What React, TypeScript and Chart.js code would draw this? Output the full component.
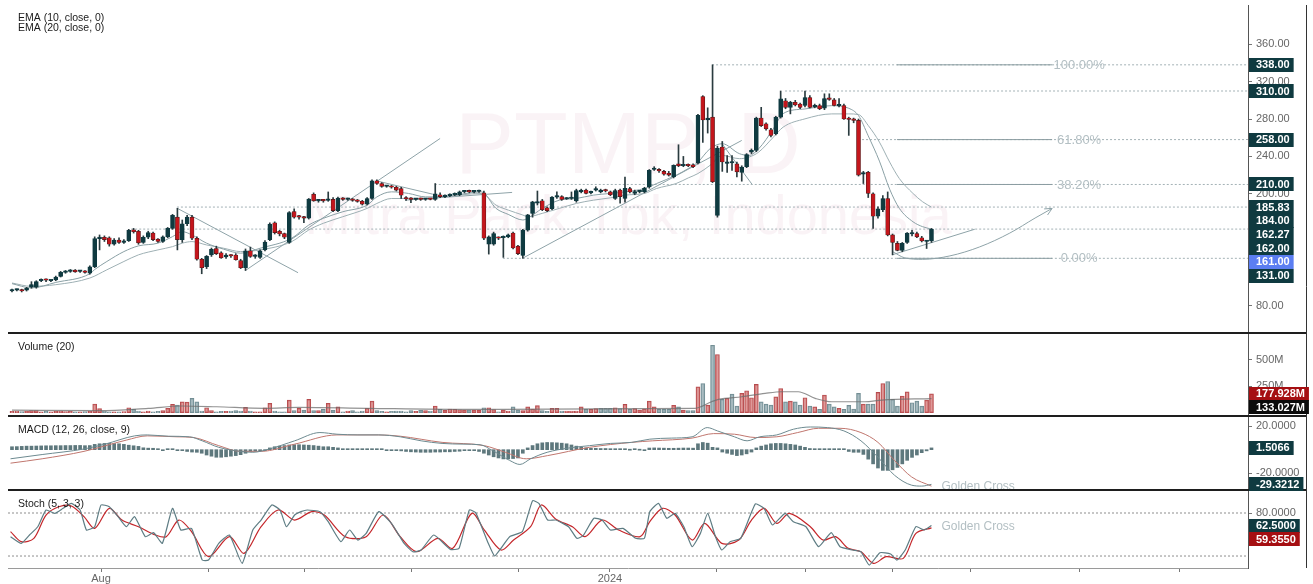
import React, { useEffect, useRef } from "react";
import { Chart, registerables } from "chart.js";
Chart.register(...registerables);

// ---------- DATA ----------
const open = [96,97,97.5,97,100,100,107,108,107,108,111.5,116,117,118.5,117,117,115,122,152,153.5,153,146,150.5,148,150,161.5,160,148,153.5,158,151.5,149,154,163,175,151,168,175,152.5,130,122,134.5,141.5,137,132.5,134,134.5,128.5,121,139,133,132,140,151,169,160,157.5,148,181,175.5,175,174,199.5,192.5,193,193,194,182,195,194,194,193,192,189,195,214,211,208,208,207,205.5,196,194.5,194,194.5,194,194.5,194,199,197,198,199,199,202,202.5,202,202.5,201,146,146,153,153,154,158,144,134,161,179,190,192.5,185,184,196.5,197,194.5,195,192.5,202,204,201,204,202,204,202,195,204,195,205.5,200.5,202,202,207.5,226,226,224,222,218,232,230,230.5,231,233,304,279,282,177,250,232.5,233,232,223,229,244.5,246.5,281,275,268.5,264,282,299.5,292.5,298,296,294.5,303,293,294.5,291.5,302,300.5,294,294.5,280.5,279,278.5,221,223,200,176,183,195,156,147,139.5,148,157,157.5,153,149,149.5];
const high = [98,98,98,100,106,107,109,109,108,112,117,118,119,119,118,118,123,154,156,155,154,152,153,151,162,163,161,155,160,159,152,155,164,178,184.5,172,177,177,154,131,134,142,144,138,136,135,136,130,141,143,135,140,150,169,170,161,158,181,184,177,176,195,201,194,194,202,196,196.5,196,195.5,195,194,193,196,215,215,212,209,209,208,207,197,196,195,195.5,195,195,211,201,199,200,201,203,203,204,203.5,204,203,155,159,154,155,157,159,145,162,178,192,203,194,186,197,202,198,196,202,205,205,205,203,207.5,205,205,203,205,205,218,207,204,203.5,207,226,229,227,225,224,231,252.5,240,232,232,285,305,292,338,251,256,241,241,234,230,243,248,282,292.5,276,270,283,310,302,299,300,297,310,305,296,296,307,307,302,302,296,282,281,280,224,224,201,186,198,202,157,149,148,158.5,161,159,154.5,150,163];
const low = [95,96,95,96,99,99,106,106,106,107,111,115,116,116,116,115,114,121,140,149,144,145,147,147,149,158,146,147,152,150,148,148,153,162,140,148,166,151,129,114.5,120,133,135,131,131,132,129,120,118,132,131,131,139,150,157,155,152,147,174,173,169,173,192,191,191,192,181,181,193,193,192,191,188,188,194,210,207,207,206,203,195,193,190.5,193,193,193,193.5,193,196,196,197,198,198,201,201,201,201.5,151,135.5,145,151,132,153,141,135,131,160,175,188,182,181,183,195,193,194,194,191,201,200,200,203,201,202,198,194,190,191,201,199,201,201,206,225,223,220,219,217,229,229,229,228,232,255,265,212,175,224,223,225,218,213.5,228,243,245,272,268,261,263,281,291,285.5,294,291,293,292,292,290,290,300,294,293,279.5,262.5,276,219,211,196,163,174,181,155,134.7,139,138,147,155,153,148.5,141.5,148];
const close = [97,97.5,96,99,103,106,108,107.5,107.5,111,116,117,118,116.5,117.5,116,122,152,153.5,151,146,150.5,148,149.5,161,159.5,147.5,153.5,158.5,151,149,154,163,177,151,168,175,152.5,130,121,133,140.5,136,131.5,134.5,133.5,129.5,121,139,133,134,139,148.5,167.5,158.5,157,153.5,180,175,175,174,194.5,192.5,193,192.5,194,182,195.5,194,194.5,193,192,189,195,214,211,208,208.5,207,204,198.5,194.5,194,194.5,194,194.5,194,200,197,197.5,199,200,202,202.5,202,202.5,203,152.5,154,157.5,152.5,153.5,156,142,136,161,177.5,191.5,191.5,183,182,196.5,197,194,195,195.5,203.5,204,200.5,202,205,204,203,199,203.5,197,206,202,202.5,202.5,206,225,227,224.5,221,220,230.5,230,231,230,229,284,279,281,213,249,234,234,233.5,223.5,228.5,242,246.5,281,273,269.5,262.5,282,301.5,292.5,298,295,292.5,303,292.5,294.5,291,302,301,294.5,295,280,279.5,278.5,220,222,200.5,176,184,195,156,148,139.5,147,158,157.5,154,149.5,149.5,162];

// volume in millions
const volume = [12,15,10,14,19,19,9,12,8,14,16,10,12,9,8,10,14,81,38,16,9,9,6,10,47,31,16,9,16,9,12,19,41,78,72,103,100,135,103,16,47,19,9,13,13,16,19,16,50,16,9,9,47,88,16,9,9,119,19,41,25,125,19,19,31,88,25,56,9,16,19,9,16,41,110,19,12,9,12,16,16,9,19,13,22,19,16,63,31,22,34,31,28,25,25,25,22,47,47,30,9,25,16,56,25,19,56,34,66,19,13,41,41,16,16,16,16,56,31,31,38,41,41,41,47,38,78,31,38,25,34,110,56,31,31,31,69,56,25,19,19,244,275,72,635,548,125,135,175,63,182,207,141,266,103,81,72,150,228,103,110,103,72,141,63,56,31,166,81,56,41,31,69,34,182,81,81,81,191,275,294,125,63,156,197,94,110,63,119,178];
const volMA20 = [[0,25],[18,19],[28,41],[35,63],[42,56],[52,41],[59,50],[73,41],[93,31],[140.4,41],[143.8,103],[145.2,125],[150,150],[154.8,182],[158.2,197],[161.6,197],[165.1,135],[168.5,103],[171.9,103],[175.3,103],[178.8,119],[189,133.027]];

const ema10 = [[0,103.9],[4,99.3],[9,105.2],[16,114.5],[17,119],[19.5,127.6],[23,138.2],[26,144.3],[30,147.2],[33,154.2],[35,159.5],[37,156],[40,147.2],[43.5,140.8],[47,136.5],[51,141.8],[57.5,152.5],[61,166.6],[64,173.8],[68,180.8],[73,187.9],[75,196.7],[78,202.1],[81.5,200.4],[85,196.7],[88,196.7],[96.5,202.1],[99.5,184.4],[102,178],[105,172],[106,173.8],[109,184.4],[112.5,193.2],[116,195],[119.5,198.6],[123,200.4],[126,202.1],[130,205.7],[132.5,211],[136.5,219.9],[139,227],[141,234],[143.5,248.3],[146,253.6],[149.5,243],[151.5,241.1],[153.5,248.3],[156.5,269.6],[158.5,285.8],[163,290.8],[168.5,294.3],[172,291.5],[174,283.7],[176,262],[178.3,235],[180.4,205],[182.4,184.4],[185.2,170.1],[187.2,164.8],[189,162.27]];
const ema20 = [[0,104.6],[4,101],[9,102.8],[16,109.9],[19.5,118.7],[23,127.6],[26,134.7],[30,140],[33,143.5],[35,147.2],[37,148.9],[40,145.3],[43.5,141.8],[47,138.2],[51,140],[57.5,148.9],[61,161.3],[64,168.5],[68,175.5],[73,184.4],[75,189.7],[78,195],[81.5,195],[85,195],[88,196.1],[96.5,200.4],[99.5,187.9],[102,182.6],[105,177.3],[106,175.5],[109,179.1],[112.5,184.4],[116,189.7],[119.5,193.2],[123,195.7],[126,198.6],[130,200.4],[132.5,205.7],[136.5,211],[139,217],[141,221.7],[143.5,230.5],[146,241.1],[149.5,237.6],[151.5,239.3],[153.5,244.7],[156.5,260.6],[158.5,271.3],[163,280.2],[168.5,285.5],[172,285.5],[174,284.8],[176,273.1],[178.3,255.3],[180.4,234],[182.4,216.3],[185.2,200.4],[187.2,191.4],[189,185.83]];

const macdLine = [[-0.3,-7.7],[6.2,-4.1],[14.8,0.6],[19.2,4.8],[25.2,11.7],[27.8,12.5],[32.2,11.4],[36.5,10.9],[39.1,7.5],[42.5,2],[46.9,-1.4],[49.5,-2.2],[52.9,0.6],[58.1,7.5],[63.3,14.5],[66.8,13.1],[71.1,12.5],[75.4,12.5],[79.8,10.9],[84.1,7.5],[88.4,5.3],[92.7,4.7],[96.2,4.2],[98.8,-0.8],[102.3,-9.1],[104.4,-12.5],[106.6,-7.7],[110,-2.2],[114.4,1.4],[118.7,3.4],[123,5.3],[127.4,6.2],[131.1,8.9],[135.5,9.8],[139.8,10.9],[142.9,18.7],[145,15.9],[148.5,10.9],[151.1,7.5],[153.7,10.9],[157.2,12.5],[160.6,17.3],[164.1,19.2],[167.6,18.7],[171,15.9],[174.5,7.5],[178,-6.4],[181.4,-21.6],[184.9,-30],[187,-30.8],[189,-29.3212]];
const signalLine = [[-0.3,-11.4],[6.2,-7.7],[14.8,-1.4],[23.5,8.1],[27.8,11.7],[33.9,10.9],[37.3,10.3],[42.5,3.4],[46.9,-1.4],[51.2,-1.4],[58.1,4.7],[66.8,12.5],[75.4,12.5],[79.8,11.4],[88.4,6.2],[97.1,3.4],[101.4,-2.2],[105.7,-7.7],[110.1,-5],[118.7,2],[127.4,6.2],[131.7,7.5],[139.8,9.8],[144.2,13.6],[148.5,13.1],[152.8,10.3],[157.2,10.9],[161.5,14.5],[165.8,18.1],[170.2,18.1],[174.5,14.5],[178,6.2],[181.4,-9.1],[184.9,-23],[189,-30.83]];
const macdHist = [2.5,2.6,2.8,3,3,3.1,3.2,3.3,3.3,3.4,3.4,3.5,3.5,3.6,3.6,3.4,3.5,4.5,5,5.3,5.3,5.2,5,4.5,3.8,3.3,2.8,1.6,1.3,1.2,0.3,-0.3,0.3,0.2,-0.3,-0.4,-1.5,-2,-2.2,-3,-4.5,-5.5,-6.4,-6.4,-6,-5.5,-5,-4.2,-3,-1.5,-1,-0.8,-0.5,1.5,2.5,3,3.5,4,4.2,4.2,4,3.8,3.5,3,2.5,2.5,2,1.5,0.8,0.6,0.5,0.3,0.3,0.4,0.5,0.4,0.2,-0.3,-0.4,-0.5,-1,-1.5,-1.8,-2,-2.2,-2.2,-2.2,-2,-2,-1.8,-1.8,-1.5,-1.3,-0.5,-0.4,-0.5,-1.5,-3,-4.5,-6,-7,-7.8,-7.8,-7.5,-7,-3,1.5,3.5,5,5.8,6.1,6,5.8,5.5,5,4,3,2,1.5,1.2,1.2,1,1,0.8,0.8,0.5,0.5,0,0.2,0,-0.2,1.4,1.5,1.4,1.3,1.2,1.2,1.3,1.4,1.4,1.3,5,6.1,5.5,2,1.5,-2,-3,-4,-5,-4.5,-3.5,-2,1.5,3,4,5,5.3,5.3,5,4.5,4,3,2,1,0.8,0.6,0.5,0.5,0.4,0.3,0.2,-1.5,-2.2,-2.2,-4,-8,-12,-15.5,-17.5,-17.5,-17,-15,-12,-9,-6.5,-4.5,-2.5,-1,1.5066];

const stochK = [[-0.3,47],[1.9,37.7],[3.6,49.3],[5.3,60.9],[7,84.2],[8.8,79.5],[10.5,86.5],[12.2,93.5],[14,84.2],[15.3,56.3],[17,60.9],[18.3,91.2],[20,88.8],[21.8,74.9],[23.5,60.9],[25.2,74.9],[27.4,47],[29.1,52.6],[30.9,37.7],[33,86.5],[34.7,56.3],[36.9,58.6],[39.1,14.4],[40.4,14.4],[42.5,37.7],[44.7,49.3],[47.3,9.8],[49.5,56.3],[51.2,70.2],[53.4,91.2],[55.1,84.2],[56.4,60.9],[58.1,77.2],[59.4,81.9],[60.7,84.2],[63.3,81.9],[65,67.9],[67.6,40],[69.4,56.3],[71.1,42.3],[72.8,51.6],[75.4,81.9],[78,65.6],[80.6,37.7],[82.4,26],[84.1,28.4],[86.7,49.3],[90.1,29.3],[91.9,30.7],[94,84.2],[95.3,80.5],[97.9,37.7],[99.2,20],[100.5,30.7],[102.3,47],[104.9,54],[107,97.2],[108.3,93.5],[110.1,70.2],[111.8,70.2],[114.4,60.9],[116.1,44.7],[117.4,48.4],[119.6,72.6],[121.3,70.2],[123,56.3],[125.6,58.6],[128.2,44.7],[130,44.7],[131.1,81.9],[132.9,93.5],[134.6,72.6],[136.3,79.5],[138.1,60.9],[139.8,33],[141.5,51.6],[143,79.5],[144.6,47],[145.9,28.4],[147.6,40],[149.8,44.7],[152.8,92.6],[154.6,86.5],[156.3,63.3],[158.9,79.5],[160.6,67.9],[163.2,60.9],[165.8,33],[168.4,52.6],[170.2,33],[172.8,28.4],[174.5,26],[176.2,7.4],[178.4,24.6],[180.6,22.8],[181.9,14.4],[183.6,28.4],[185.8,60.9],[187.5,56.3],[189,62.5]];
const stochD = [[-0.3,54],[1.9,40],[4.5,44.7],[7,77.2],[9.6,88.8],[12.2,89.8],[14.8,74.9],[17,58.6],[20,86.5],[22.6,70.2],[26,60.9],[29.5,49.3],[31.7,47],[34.3,70.2],[36.9,54],[40.4,19.1],[44.7,47],[47.7,23.7],[51.2,60.9],[54.7,84.2],[58.1,70.2],[61.6,81.9],[64.2,77.2],[68.5,47],[72.8,47],[76.3,77.2],[79.8,47],[83.2,26],[87.5,44.7],[90.6,30.7],[94.5,79.5],[97.1,56.3],[100.5,28.4],[103.1,42.3],[106.6,60.9],[108.8,91.2],[111.8,71.4],[115.2,60.9],[117.8,47],[121.3,70.2],[124.7,56.3],[129.1,47],[131.1,67.9],[133.7,86.5],[136.3,77.2],[139.8,42.3],[142.4,65.6],[145.9,37.7],[149.4,42.3],[152,70.2],[154.6,86.5],[157.2,65.6],[159.8,79.5],[164.1,60.9],[166.7,42.3],[169.3,47],[171.9,30.7],[174.5,26],[177.1,9.8],[179.7,19.1],[183.2,16.7],[185.8,51.6],[189,59.355]];

// x axis (bar index) month ticks
const monthTicks = [18.3, 40.3, 60.2, 82.2, 104.2, 122.9, 144.9, 163.2, 180.9, 197.1, 219.5, 239.9];
const monthLabels = ["Aug", "", "", "", "", "2024", "", "", "", "", "", ""];
const priceTicks = [80, 120, 160, 200, 240, 280, 320, 360];
const volumeTicks = [250, 500];
const macdTicks = [-20, 20];
const stochTicks = [80];
const stochBands = [80, 20];

// drawings
const levelPrices = [338, 310, 258, 210, 185.83, 162.27, 131];
const levelStarts = [143.9, 158.9, 173.9, 86.9, 33.9, 24.5, 100.9];
const trendLines = [
  [[33.9, 184.7], [58.8, 115.6]],
  [[47.9, 117.7], [88, 259.2]],
  [[75.2, 213.5], [86.5, 199.6]],
  [[80.8, 193.2], [102.8, 201.5]],
  [[105, 131.2], [150, 257.1]],
  [[145.9, 253.9], [152.1, 210.3]],
  [[180.9, 134.7], [197.9, 162.1]],
];
const curveArrow = [[181.1, 137.9], [183.5, 131.5], [187.2, 129.9], [192.8, 133.6], [198.9, 143.2], [205.1, 158], [210.3, 174.1], [213.8, 184.4]];
const fibPrices = [338, 258, 210, 131];
const fibNames = ["100.00%", "61.80%", "38.20%", "0.00%"];
const fibRange = [181.9, 213.8];

const priceLabels = [338, 310, 258, 210, 185.83, 184, 162.27, 162, 161, 131];
const priceLabelHighlight = 161;
const volumeLabels = [177.928, 133.027];
const macdLabels = [1.5066, -29.3212];
const stochLabels = [62.5, 59.355];

// ---------- STYLE ----------
const FONT = '"Liberation Sans", Arial, Helvetica, sans-serif';
const DARK = "#0f3a40";
const RED = "#c4161c";
const LINE = "#8ea3a8";

const N = close.length;
const idx = Array.from({ length: N }, (_, i) => i);
const pts = (a: number[][]) => a.map(([x, y]) => ({ x, y }));
const XMIN = -0.82;
const XMAX = 254.06;

function fixedTicks(values: number[]) {
  return (scale: any) => {
    scale.ticks = values.map((v) => ({ value: v }));
  };
}
function fitY(scale: any) {
  scale.width = 58;
  scale.paddingTop = 0;
  scale.paddingBottom = 0;
}

function drawBoxes(ctx: any, scale: any, items: { v: number; t: string; bg: string }[]) {
  let prev = -Infinity;
  ctx.font = "bold 11px " + FONT;
  ctx.textBaseline = "middle";
  ctx.textAlign = "left";
  const left = scale.left;
  for (const it of items) {
    let y = scale.getPixelForValue(it.v);
    if (y < prev + 13.7) y = prev + 13.7;
    prev = y;
    const w = ctx.measureText(it.t).width;
    ctx.fillStyle = it.bg;
    ctx.fillRect(left + 1, Math.round(y - 7), w + 11, 14);
    ctx.fillStyle = "#ffffff";
    ctx.fillText(it.t, left + 8, y + 0.5);
  }
}

const overlay = {
  id: "overlay",
  beforeDatasetsDraw(chart: any) {
    const { ctx, chartArea } = chart;
    const yP = chart.scales.yP;
    const cx = (chartArea.left + chartArea.right) / 2;
    ctx.save();
    ctx.beginPath();
    ctx.rect(chartArea.left, yP.top, chartArea.right - chartArea.left, yP.bottom - yP.top);
    ctx.clip();
    ctx.fillStyle = "rgba(232, 196, 208, 0.2)";
    ctx.textAlign = "center";
    ctx.textBaseline = "alphabetic";
    ctx.font = "88px " + FONT;
    ctx.fillText("PTMP, D", cx, yP.top + 168);
    ctx.font = "56px " + FONT;
    ctx.fillText("Mitra Pack Tbk, Indonesia", cx, yP.top + 229);
    ctx.restore();
  },
  afterDraw(chart: any) {
    const { ctx, chartArea, scales } = chart;
    const { x, yP, yV, yM, yS } = scales;
    const W = chart.width;
    ctx.save();
    // panel titles
    ctx.fillStyle = "#1a1a1a";
    ctx.font = "10.5px " + FONT;
    ctx.textAlign = "left";
    ctx.textBaseline = "middle";
    ctx.fillText("EMA (10, close, 0)", 18, yP.top + 13.5);
    ctx.fillText("EMA (20, close, 0)", 18, yP.top + 23.5);
    ctx.fillText("Volume (20)", 18, yV.top + 14);
    ctx.fillText("MACD (12, 26, close, 9)", 18, yM.top + 14);
    ctx.fillText("Stoch (5, 3, 3)", 18, yS.top + 14);

    // fib labels
    ctx.font = "13px " + FONT;
    ctx.fillStyle = "#b3bfc3";
    ctx.textAlign = "center";
    const fx = x.getPixelForValue(fibRange[1]) + 27;
    fibPrices.forEach((p, k) => ctx.fillText(fibNames[k], fx, yP.getPixelForValue(p) + 0.5));

    // golden cross labels
    ctx.font = "12px " + FONT;
    ctx.textAlign = "left";
    const gx = x.getPixelForValue(N - 1) + 10;
    ctx.fillText("Golden Cross", gx, yM.getPixelForValue(signalLine[signalLine.length - 1][1]) + 1);
    ctx.fillText("Golden Cross", gx, yS.getPixelForValue(stochK[stochK.length - 1][1]) + 1);

    // arrowhead on curve
    const a = curveArrow[curveArrow.length - 2];
    const b = curveArrow[curveArrow.length - 1];
    const x1 = x.getPixelForValue(a[0]), y1 = yP.getPixelForValue(a[1]);
    const x2 = x.getPixelForValue(b[0]), y2 = yP.getPixelForValue(b[1]);
    const ang = Math.atan2(y2 - y1, x2 - x1);
    ctx.strokeStyle = LINE;
    ctx.lineWidth = 1;
    ctx.beginPath();
    ctx.moveTo(x2 - 8 * Math.cos(ang - 0.45), y2 - 8 * Math.sin(ang - 0.45));
    ctx.lineTo(x2, y2);
    ctx.lineTo(x2 - 8 * Math.cos(ang + 0.45), y2 - 8 * Math.sin(ang + 0.45));
    ctx.stroke();

    // panel separators
    ctx.strokeStyle = "#1e1e1e";
    ctx.lineWidth = 2;
    [yP.bottom, yV.bottom, yM.bottom].forEach((yy: number) => {
      ctx.beginPath();
      ctx.moveTo(chartArea.left, yy);
      ctx.lineTo(W - 7, yy);
      ctx.stroke();
    });
    // right frame
    ctx.strokeStyle = "#333";
    ctx.lineWidth = 1;
    ctx.beginPath();
    ctx.moveTo(W - 6.5, chartArea.top);
    ctx.lineTo(W - 6.5, chartArea.bottom);
    ctx.stroke();

    // right-side value boxes
    drawBoxes(ctx, yP, priceLabels.map((v) => ({ v, t: v.toFixed(2), bg: v === priceLabelHighlight ? "#5b7ef2" : DARK })));
    drawBoxes(ctx, yV, volumeLabels.map((v, k) => ({ v, t: v.toFixed(3) + "M", bg: k === 0 ? "#a50f12" : "#0b0b0b" })));
    drawBoxes(ctx, yM, macdLabels.map((v) => ({ v, t: v.toFixed(4), bg: DARK })));
    drawBoxes(ctx, yS, stochLabels.map((v, k) => ({ v, t: v.toFixed(4), bg: k === 0 ? DARK : "#a50f12" })));
    ctx.restore();
  },
};

function buildConfig(): any {
  const datasets: any[] = [];
  // dotted price levels
  levelPrices.forEach((p, k) => {
    datasets.push({
      type: "line", yAxisID: "yP", data: [{ x: levelStarts[k], y: p }, { x: XMAX, y: p }],
      borderColor: "#a4b2b6", borderWidth: 1, borderDash: [2, 2], pointRadius: 0, order: 20,
    });
  });
  // fib solid segments
  fibPrices.forEach((p) => {
    datasets.push({
      type: "line", yAxisID: "yP", data: [{ x: fibRange[0], y: p }, { x: fibRange[1], y: p }],
      borderColor: "#8a9ca1", borderWidth: 1, pointRadius: 0, order: 19,
    });
  });
  // trend lines
  trendLines.forEach((seg) => {
    datasets.push({
      type: "line", yAxisID: "yP", data: pts(seg), borderColor: LINE, borderWidth: 1, pointRadius: 0, order: 18,
    });
  });
  datasets.push({
    type: "line", yAxisID: "yP", data: pts(curveArrow), borderColor: LINE, borderWidth: 1, pointRadius: 0,
    tension: 0.4, cubicInterpolationMode: "monotone", order: 18,
  });
  // EMAs
  datasets.push({
    type: "line", yAxisID: "yP", data: pts(ema10), borderColor: "#8aa0a5", borderWidth: 1, pointRadius: 0,
    cubicInterpolationMode: "monotone", order: 15,
  });
  datasets.push({
    type: "line", yAxisID: "yP", data: pts(ema20), borderColor: "#9eb0b4", borderWidth: 1, pointRadius: 0,
    cubicInterpolationMode: "monotone", order: 15,
  });
  // candles
  datasets.push({
    type: "bar", yAxisID: "yP", grouped: false, barThickness: 1, order: 3,
    data: idx.map((i) => ({ x: i, y: [low[i], high[i]] })),
    backgroundColor: "#2a3b3f", borderWidth: 0,
  });
  datasets.push({
    type: "bar", yAxisID: "yP", grouped: false, barThickness: 4, order: 2, minBarLength: 1.5,
    data: idx.map((i) => ({ x: i, y: [open[i], close[i]] })),
    backgroundColor: idx.map((i) => (close[i] >= open[i] ? DARK : RED)),
    borderColor: idx.map((i) => (close[i] >= open[i] ? DARK : "#4a1a1a")),
    borderWidth: 0.6, borderSkipped: false,
  });
  // volume
  const volUp = idx.map((i) => i === 0 || close[i] >= close[i - 1]);
  datasets.push({
    type: "bar", yAxisID: "yV", grouped: false, barThickness: 4, order: 5, minBarLength: 1,
    data: idx.map((i) => ({ x: i, y: volume[i] })),
    backgroundColor: volUp.map((u) => (u ? "rgba(208,110,110,0.7)" : "rgba(140,165,172,0.75)")),
    borderColor: volUp.map((u) => (u ? "#b54a4c" : "#6f8b91")),
    borderWidth: 0.8, borderSkipped: false,
  });
  datasets.push({
    type: "line", yAxisID: "yV", data: pts(volMA20), borderColor: "rgba(110,110,110,0.75)", borderWidth: 1.2,
    pointRadius: 0, cubicInterpolationMode: "monotone", order: 4,
  });
  // MACD
  datasets.push({
    type: "bar", yAxisID: "yM", grouped: false, barThickness: 3, order: 6, minBarLength: 1,
    data: idx.map((i) => ({ x: i, y: macdHist[i] })),
    backgroundColor: "#5e787d", borderWidth: 0,
  });
  datasets.push({
    type: "line", yAxisID: "yM", data: pts(macdLine), borderColor: "#6d8a90", borderWidth: 1, pointRadius: 0,
    cubicInterpolationMode: "monotone", order: 4,
  });
  datasets.push({
    type: "line", yAxisID: "yM", data: pts(signalLine), borderColor: "#c0766e", borderWidth: 1, pointRadius: 0,
    cubicInterpolationMode: "monotone", order: 4,
  });
  // Stoch
  stochBands.forEach((v) => {
    datasets.push({
      type: "line", yAxisID: "yS", data: [{ x: XMIN, y: v }, { x: XMAX, y: v }],
      borderColor: "#8d8d8d", borderWidth: 1, borderDash: [2, 2], pointRadius: 0, order: 10,
    });
  });
  datasets.push({
    type: "line", yAxisID: "yS", data: pts(stochD), borderColor: "#c4262a", borderWidth: 1.2, pointRadius: 0,
    tension: 0.3, order: 5,
  });
  datasets.push({
    type: "line", yAxisID: "yS", data: pts(stochK), borderColor: "#5d7c83", borderWidth: 1.2, pointRadius: 0,
    tension: 0.15, order: 4,
  });

  const yCommon = (over: any) => ({
    type: "linear",
    position: "right",
    stack: "panels",
    afterFit: fitY,
    grid: { drawOnChartArea: false, tickLength: 4, color: "#777", drawTicks: true },
    border: { color: "#555", width: 1 },
    ...over,
    ticks: { padding: 4, color: "#666", font: { size: 11, family: FONT }, autoSkip: false, ...(over.ticks || {}) },
  });

  return {
    type: "line",
    data: { datasets },
    plugins: [overlay],
    options: {
      animation: false,
      responsive: false,
      devicePixelRatio: 1,
      layout: { padding: { left: 8, right: 7, top: 5, bottom: 0 } },
      plugins: { legend: { display: false }, tooltip: { enabled: false } },
      events: [],
      scales: {
        x: {
          type: "linear", position: "bottom", min: XMIN, max: XMAX, offset: false,
          afterBuildTicks: fixedTicks(monthTicks),
          afterFit: (s: any) => { s.height = 16; s.paddingLeft = 0; s.paddingRight = 0; },
          grid: { drawOnChartArea: false, tickLength: 4, color: "#777", offset: false },
          border: { color: "#9a9a9a" },
          ticks: {
            padding: 0, color: "#666", font: { size: 11, family: FONT }, autoSkip: false, maxRotation: 0,
            callback: (_v: any, i: number) => monthLabels[i],
          },
        },
        yP: yCommon({ min: 51.1, max: 402, weight: 1, stackWeight: 328, afterBuildTicks: fixedTicks(priceTicks),
          ticks: { callback: (v: number) => v.toFixed(2) } }),
        yV: yCommon({ min: -31, max: 750, weight: 2, stackWeight: 83, afterBuildTicks: fixedTicks(volumeTicks),
          ticks: { callback: (v: number) => v + "M" } }),
        yM: yCommon({ min: -34.1, max: 28.5, weight: 3, stackWeight: 74, afterBuildTicks: fixedTicks(macdTicks),
          ticks: { callback: (v: number) => v.toFixed(4) } }),
        yS: yCommon({ min: 3.3, max: 112.1, weight: 4, stackWeight: 78, afterBuildTicks: fixedTicks(stochTicks),
          ticks: { callback: (v: number) => v.toFixed(4) } }),
      },
    },
  };
}

export default function App() {
  const ref = useRef<HTMLCanvasElement | null>(null);
  useEffect(() => {
    if (!ref.current) return;
    const chart = new Chart(ref.current, buildConfig());
    return () => chart.destroy();
  }, []);
  return (
    <div style={{ position: "fixed", left: 0, top: 0, width: 1313, height: 584, background: "#fff" }}>
      <canvas ref={ref} width={1313} height={584} style={{ display: "block", width: 1313, height: 584 }} />
    </div>
  );
}
